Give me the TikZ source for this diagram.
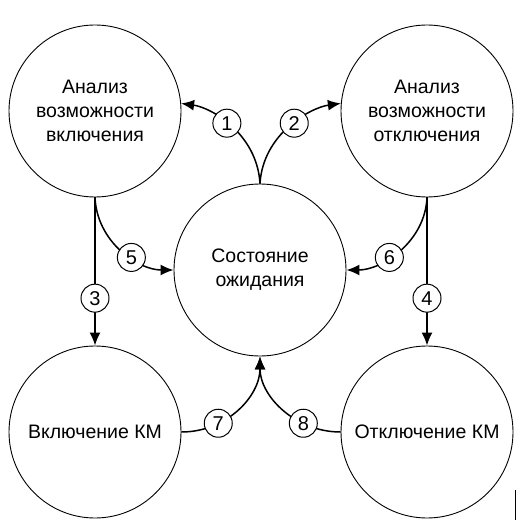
\documentclass[tikz,border=0pt]{standalone}
\usepackage{fontspec}
\setmainfont{Liberation Sans}
\usetikzlibrary{arrows.meta}
\begin{document}
\begin{tikzpicture}[x=1pt,y=-1pt,
  state/.style={circle,draw,line width=0.9pt,minimum size=172pt,inner sep=0pt,align=center,font=\fontsize{19.5}{24}\selectfont},
  num/.style={circle,draw,fill=white,line width=1pt,minimum size=28pt,inner sep=0pt,font=\fontsize{20}{20}\selectfont},
  link/.style={line width=1.5pt,-{Latex[length=13pt,width=11pt]}}]
\useasboundingbox (0,0) rectangle (517,529);
\node[state] (tl) at (95,111) {Анализ\\возможности\\включения};
\node[state] (tr) at (427,111) {Анализ\\возможности\\отключения};
\node[state] (c) at (260,270) {Состояние\\ожидания};
\node[state] (bl) at (95,432) {Включение КМ};
\node[state] (br) at (427,432) {Отключение КМ};
\draw[link] (c.north) .. controls +(-3,-50) and +(30,4) .. (tl.5) node[num,pos=0.54] {1};
\draw[link] (c.north) .. controls +(3,-50) and +(-30,4) .. (tr.175) node[num,pos=0.54] {2};
\draw[link] (tl.south) -- (bl.north) node[num,pos=0.68] {3};
\draw[link] (tr.south) -- (br.north) node[num,pos=0.68] {4};
\draw[link] (tl.south) .. controls +(2,45) and +(-35,0) .. (c.west) node[num,pos=0.6] {5};
\draw[link] (tr.south) .. controls +(-2,45) and +(35,0) .. (c.east) node[num,pos=0.6] {6};
\draw[link] (bl.east) .. controls +(45,0) and +(0,40) .. (c.south) node[num,pos=0.3] {7};
\draw[link] (br.west) .. controls +(-45,0) and +(0,40) .. (c.south) node[num,pos=0.3] {8};
\coordinate (m1) at (515.5,490);
\coordinate (m2) at (515.5,520);
\draw[line width=1pt] (m1) -- (m2);
\end{tikzpicture}
\end{document}
